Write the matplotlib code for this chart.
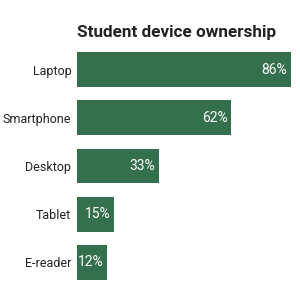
import matplotlib
matplotlib.use("Agg")
import matplotlib.pyplot as plt

categories = ["Laptop", "Smartphone", "Desktop", "Tablet", "E-reader"]
values = [86, 62, 33, 15, 12]
labels = [f"{v}%" for v in values]
title = "Student device ownership"

plt.rcParams['font.family'] = ['Roboto', 'DejaVu Sans']

fig = plt.figure(figsize=(3, 3), dpi=100)
ax = fig.add_axes([77/300, 1 - 286.6/300, 215/300, 241.2/300])
ypos = list(range(len(categories)))
bars = ax.barh(ypos, values, height=0.725, color="#34704c")
ax.set_xlim(0, 86.5)
ax.set_ylim(4.5, -0.5)
ax.set_yticks(ypos)
ax.set_yticklabels(categories, fontsize=9, color="#222222")
ax.tick_params(axis='y', length=0, pad=4)
ax.set_xticks([])
for s in ax.spines.values():
    s.set_visible(False)
for b, lab in zip(bars, labels):
    ax.annotate(lab, xy=(b.get_width(), b.get_y() + b.get_height()/2),
                xytext=(-2.5, 0), textcoords="offset points",
                ha="right", va="center", color="white", fontsize=10)
fig.text(77/300, 1 - 33/300, title, fontsize=12.3, fontweight="bold",
         ha="left", va="center", color="#222222")
fig.savefig("out.png", dpi=100)
